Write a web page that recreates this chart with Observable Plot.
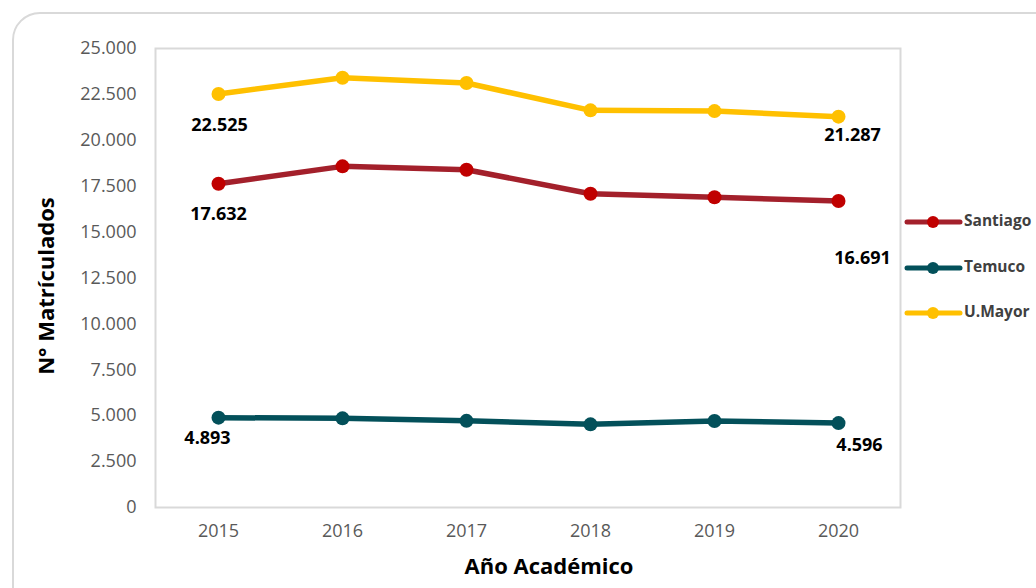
<!DOCTYPE html>
<html><head><meta charset="utf-8">
<script src="https://cdn.jsdelivr.net/npm/d3@7"></script>
<script src="https://cdn.jsdelivr.net/npm/@observablehq/plot@0.6"></script>
<style>
html,body{margin:0;padding:0;background:#fff;}
body{overflow:hidden;width:1036px;height:588px;position:relative;font-family:"Open Sans",sans-serif;}
#frame{position:absolute;left:12px;top:12px;width:1100px;height:700px;border:2px solid #d9d9d9;border-radius:28px;box-sizing:border-box;}
#chart{position:absolute;left:0;top:0;}
</style></head>
<body><div id="frame"></div><div id="chart"></div>
<script>
// ---- data ----
const years = [2015, 2016, 2017, 2018, 2019, 2020];
const santiago = [17632, 18580, 18400, 17090, 16900, 16691];
const temuco = [4893, 4855, 4720, 4530, 4710, 4596];
const umayor = [22525, 23410, 23120, 21630, 21590, 21287];
const seriesNames = ["Santiago", "Temuco", "U.Mayor"];
const yTicks = [0, 2500, 5000, 7500, 10000, 12500, 15000, 17500, 20000, 22500, 25000];
const xTitle = "Año Académico";
const yTitle = "N° Matrículados";

// ---- styles ----
const lineColors = {"Santiago": "#a3202b", "Temuco": "#03505a", "U.Mayor": "#ffc000"};
const dotColors = {"Santiago": "#c00000", "Temuco": "#03505a", "U.Mayor": "#ffc000"};
const labelOffsets = {
  "U.Mayor-2015": [1, 31], "U.Mayor-2020": [14, 19],
  "Santiago-2015": [0, 30], "Santiago-2020": [24, 57],
  "Temuco-2015": [-11, 21], "Temuco-2020": [21, 22]
};

const valuesBySeries = {"Santiago": santiago, "Temuco": temuco, "U.Mayor": umayor};
const rows = seriesNames.flatMap(s => years.map((y, i) => ({series: s, year: String(y), value: valuesBySeries[s][i]})));

const loc = d3.formatLocale({decimal: ",", thousands: ".", grouping: [3], currency: ["$", ""]});
const fmt = loc.format(",d");

const marks = [
  Plot.frame({stroke: "#d9d9d9", strokeWidth: 2}),
  Plot.axisY({ticks: yTicks, tickSize: 0, tickPadding: 19, tickFormat: fmt, fontSize: 18, fill: "#595959", label: null}),
  Plot.axisX({tickSize: 0, tickPadding: 17, fontSize: 18, fill: "#595959", label: null})
];
for (const s of seriesNames) {
  const data = rows.filter(d => d.series === s);
  marks.push(Plot.line(data, {x: "year", y: "value", stroke: lineColors[s], strokeWidth: 5.5}));
  marks.push(Plot.dot(data, {x: "year", y: "value", r: 7, fill: dotColors[s], stroke: "none"}));
  for (const yr of [years[0], years[years.length - 1]]) {
    const d = data.filter(r => r.year === String(yr));
    const off = labelOffsets[s + "-" + yr];
    marks.push(Plot.text(d, {x: "year", y: "value", text: r => fmt(r.value), dx: off[0], dy: off[1],
      fontSize: 18, fontWeight: "bold", fill: "#000", lineAnchor: "middle"}));
  }
}

const chart = Plot.plot({
  width: 1036, height: 588,
  marginLeft: 155, marginRight: 136, marginTop: 48, marginBottom: 81,
  style: {background: "transparent", fontFamily: "'Open Sans', sans-serif", color: "#595959", overflow: "visible"},
  x: {type: "point", domain: years.map(String), padding: 0.5},
  y: {domain: [0, 25000]},
  marks
});
document.getElementById("chart").appendChild(chart);

const svg = d3.select(chart);
svg.append("text").attr("x", 549).attr("y", 568).attr("text-anchor", "middle").attr("dominant-baseline", "middle")
  .attr("font-size", 22).attr("font-weight", "bold").attr("fill", "#000").text(xTitle);
svg.append("text").attr("transform", "translate(48,286) rotate(-90)").attr("text-anchor", "middle").attr("dominant-baseline", "middle")
  .attr("font-size", 22).attr("font-weight", "bold").attr("fill", "#000").text(yTitle);

const legendY = [222, 268, 313];
seriesNames.forEach((s, i) => {
  const g = svg.append("g");
  g.append("line").attr("x1", 907).attr("x2", 960).attr("y1", legendY[i]).attr("y2", legendY[i])
    .attr("stroke", lineColors[s]).attr("stroke-width", 5).attr("stroke-linecap", "round");
  g.append("circle").attr("cx", 933).attr("cy", legendY[i]).attr("r", 6).attr("fill", dotColors[s]);
  g.append("text").attr("x", 964).attr("y", legendY[i]).attr("text-anchor", "start").attr("dominant-baseline", "middle")
    .attr("font-size", 15.5).attr("font-weight", "bold").attr("fill", "#404040").text(s);
});
</script>
</body></html>
